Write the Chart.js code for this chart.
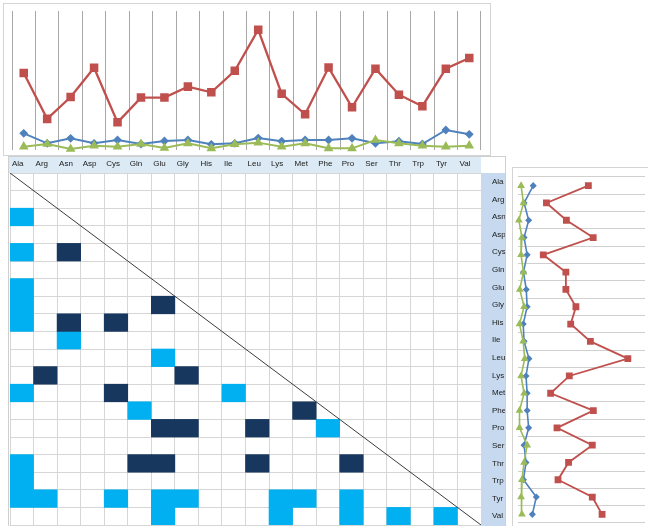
<!DOCTYPE html>
<html>
<head>
<meta charset="utf-8">
<script src="https://cdn.jsdelivr.net/npm/chart.js@4/dist/chart.umd.min.js"></script>
<style>
  html, body { margin: 0; padding: 0; background: #fff; width: 648px; height: 526px; overflow: hidden; position: relative; }
  .box { position: absolute; box-sizing: border-box; overflow: hidden; }
  #topBox  { left: 3px;   top: 3px;   width: 488px; height: 153px; border: 1px solid #d4d4d4; }
  #heatBox { left: 8px;   top: 156px; width: 498px; height: 370px; border: 1px solid #cfcfcf; border-bottom: none; }
  #sideBox { left: 512px; top: 167px; width: 140px; height: 365px; border: 1px solid #d4d4d4; }
  canvas { position: absolute; left: 0; top: 0; }
</style>
</head>
<body>
<div class="box" id="topBox"><canvas id="lineTop" width="486" height="151"></canvas></div>
<div class="box" id="heatBox"><canvas id="heat" width="496" height="369"></canvas></div>
<div class="box" id="sideBox"><canvas id="lineSide" width="135" height="358"></canvas></div>

<script>
// Amino acids (columns of the grid, x categories of the top profile, rows of the side profile)
const aminoAcids = ['Ala', 'Arg', 'Asn', 'Asp', 'Cys', 'Gln', 'Glu', 'Gly', 'His', 'Ile',
                    'Leu', 'Lys', 'Met', 'Phe', 'Pro', 'Ser', 'Thr', 'Trp', 'Tyr', 'Val'];

// Profile series
const seriesRed   = [5.54, 2.24, 3.81, 5.92, 1.99, 3.77, 3.77, 4.56, 4.15, 5.70,
                     8.65, 4.04, 2.57, 5.93, 3.07, 5.85, 3.98, 3.15, 5.85, 6.62];
const seriesBlue  = [1.20, 0.48, 0.84, 0.48, 0.72, 0.43, 0.65, 0.72, 0.41, 0.48,
                     0.86, 0.63, 0.72, 0.72, 0.84, 0.48, 0.63, 0.43, 1.44, 1.13];
const seriesGreen = [0.24, 0.43, 0.07, 0.31, 0.24, 0.43, 0.14, 0.48, 0.12, 0.41,
                     0.53, 0.24, 0.48, 0.12, 0.12, 0.72, 0.48, 0.31, 0.24, 0.31];
const profileMax = 10;

// Marked pairs of the lower triangle: [row, column]
const lightCells = [
  ['Asn', 'Ala'], ['Cys', 'Ala'], ['Glu', 'Ala'], ['Gly', 'Ala'], ['His', 'Ala'],
  ['Ile', 'Asn'], ['Leu', 'Glu'], ['Met', 'Ala'], ['Met', 'Ile'], ['Phe', 'Gln'],
  ['Pro', 'Phe'], ['Thr', 'Ala'], ['Trp', 'Ala'],
  ['Tyr', 'Ala'], ['Tyr', 'Arg'], ['Tyr', 'Cys'], ['Tyr', 'Glu'], ['Tyr', 'Gly'],
  ['Tyr', 'Lys'], ['Tyr', 'Met'], ['Tyr', 'Pro'],
  ['Val', 'Glu'], ['Val', 'Lys'], ['Val', 'Pro'], ['Val', 'Thr'], ['Val', 'Tyr']
];
const darkCells = [
  ['Cys', 'Asn'], ['Gly', 'Glu'], ['His', 'Asn'], ['His', 'Cys'],
  ['Lys', 'Arg'], ['Lys', 'Gly'], ['Met', 'Cys'], ['Phe', 'Met'],
  ['Pro', 'Glu'], ['Pro', 'Gly'], ['Pro', 'Leu'],
  ['Thr', 'Gln'], ['Thr', 'Glu'], ['Thr', 'Leu'], ['Thr', 'Pro']
];

const RED = '#c0504d', BLUE = '#4f81bd', GREEN = '#9bbb59';
const LIGHT = '#00b0f0', DARK = '#17375e';

Chart.defaults.font.family = '"Liberation Sans", Arial, sans-serif';
Chart.defaults.font.size = 8;
Chart.defaults.color = '#1a1a1a';

const commonPlugins = { legend: { display: false }, tooltip: { enabled: false } };

// scales here never reserve extra room for overhanging labels
const noOverhang = s => { s.paddingTop = 0; s.paddingBottom = 0; s.paddingLeft = 0; s.paddingRight = 0; };

function profileSets(scale) {
  return [
    { data: seriesGreen, borderColor: GREEN, backgroundColor: GREEN, borderWidth: 2 * scale,
      pointStyle: 'triangle', pointRadius: 3.6 * scale, clip: false, tension: 0 },
    { data: seriesBlue, borderColor: BLUE, backgroundColor: BLUE, borderWidth: 2 * scale,
      pointStyle: 'rectRot', pointRadius: 3 * scale, clip: false, tension: 0 },
    { data: seriesRed, borderColor: RED, backgroundColor: RED, borderWidth: 2.3 * scale,
      pointStyle: 'rect', pointRadius: 4.4 * scale, clip: false, tension: 0 }
  ];
}

// Top profile: amino acids along x
new Chart(document.getElementById('lineTop'), {
  type: 'line',
  data: { labels: aminoAcids, datasets: profileSets(1) },
  options: {
    responsive: false, animation: false, events: [],
    layout: { autoPadding: false, padding: { left: 8, right: 9, top: 7, bottom: 5 } },
    plugins: commonPlugins,
    scales: {
      x: { type: 'category', offset: true,
           grid: { offset: true, color: '#a8a8a8', lineWidth: 1, drawTicks: false },
           border: { display: false }, ticks: { display: false },
           afterFit: s => { s.height = 0; noOverhang(s); } },
      y: { display: false, min: 0, max: profileMax }
    }
  }
});

// Side profile: amino acids down y
new Chart(document.getElementById('lineSide'), {
  type: 'line',
  data: { labels: aminoAcids, datasets: profileSets(0.8) },
  options: {
    indexAxis: 'y',
    responsive: false, animation: false, events: [],
    layout: { autoPadding: false, padding: { left: 5, right: 3, top: 9, bottom: 3 } },
    plugins: commonPlugins,
    scales: {
      y: { type: 'category', offset: true,
           grid: { offset: true, color: '#d0d0d0', lineWidth: 1, drawTicks: false },
           border: { display: false }, ticks: { display: false },
           afterFit: s => { s.width = 0; noOverhang(s); } },
      x: { type: 'linear', display: false, min: 0, max: profileMax }
    }
  }
});

// Pair grid
const idx = name => aminoAcids.indexOf(name);
const toBar = ([r, c]) => ({ x: idx(c) + 0.5, y: [idx(r), idx(r) + 1] });
const cellData = lightCells.map(toBar).concat(darkCells.map(toBar));
const cellColors = lightCells.map(() => LIGHT).concat(darkCells.map(() => DARK));

const labelBands = {
  id: 'labelBands',
  beforeDraw(chart, args, opts) {
    const { ctx, chartArea: a } = chart;
    ctx.save();
    ctx.fillStyle = opts.header;
    ctx.fillRect(0, 0, a.right, a.top);
    ctx.fillStyle = opts.side;
    ctx.fillRect(a.right, a.top, chart.width - a.right, chart.height - a.top);
    ctx.restore();
  }
};

new Chart(document.getElementById('heat'), {
  type: 'bar',
  data: {
    datasets: [
      { type: 'line', data: [{ x: 0, y: 0 }, { x: aminoAcids.length, y: aminoAcids.length }],
        borderColor: '#3c3c3c', borderWidth: 1, pointRadius: 0, order: -1,
        xAxisID: 'x', yAxisID: 'y' },
      { type: 'bar', data: cellData, backgroundColor: cellColors, borderWidth: 0,
        barPercentage: 1, categoryPercentage: 1, xAxisID: 'x', yAxisID: 'y' }
    ]
  },
  options: {
    responsive: false, animation: false, events: [],
    layout: { autoPadding: false, padding: { left: 1, right: 0, top: 0, bottom: 1 } },
    plugins: Object.assign({ labelBands: { header: '#dbeaf4', side: '#c6d9ef' } }, commonPlugins),
    scales: {
      x: { type: 'linear', position: 'top', min: 0, max: aminoAcids.length, offset: false,
           grid: { offset: false, color: '#d6d6d6', lineWidth: 1, drawTicks: false },
           border: { display: false },
           ticks: { stepSize: 1, autoSkip: false, maxRotation: 0, align: 'start',
                    labelOffset: 2, padding: 4,
                    callback: v => (v < aminoAcids.length ? aminoAcids[v] : '') },
           afterFit: s => { s.height = 16; noOverhang(s); } },
      y: { type: 'linear', position: 'left', min: 0, max: aminoAcids.length, reverse: true,
           grid: { color: '#d6d6d6', lineWidth: 1, drawTicks: false },
           border: { display: false },
           ticks: { stepSize: 1, display: false },
           afterFit: s => { s.width = 0; noOverhang(s); } },
      rowLabels: { type: 'category', position: 'right', labels: aminoAcids, offset: true,
           grid: { display: false }, border: { display: false },
           ticks: { autoSkip: false, crossAlign: 'near', padding: 3 },
           afterFit: s => { s.width = 24; noOverhang(s); } }
    }
  },
  plugins: [labelBands]
});
</script>
</body>
</html>
